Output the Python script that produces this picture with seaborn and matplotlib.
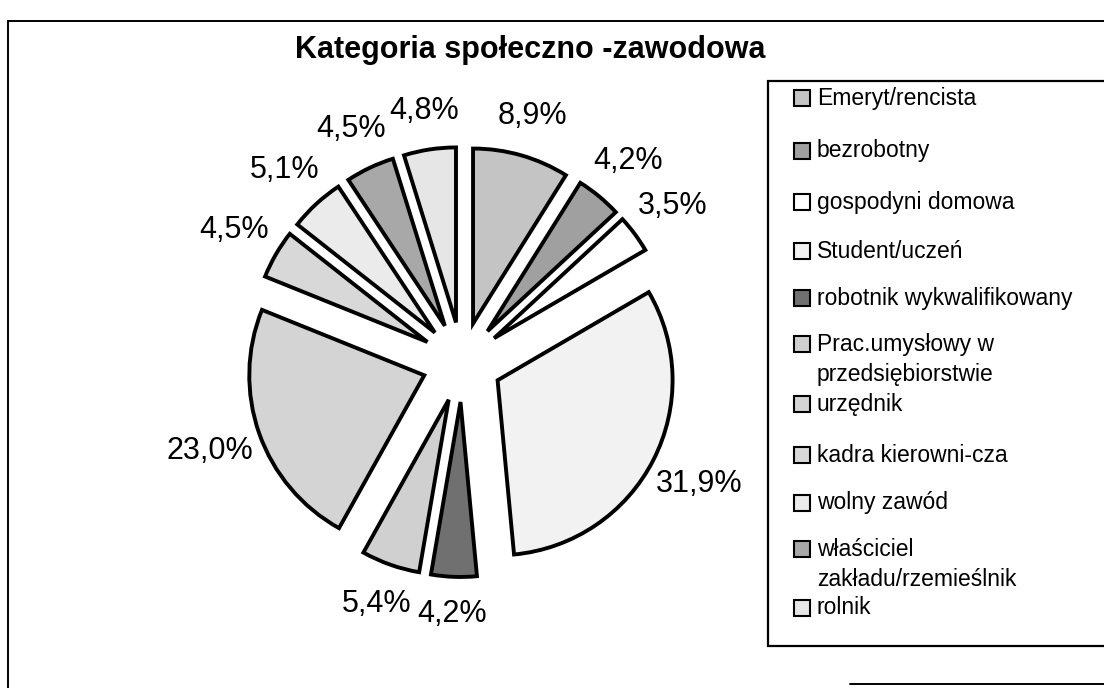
import matplotlib
matplotlib.use("Agg")
import numpy as np
import matplotlib.pyplot as plt
import seaborn as sns
from matplotlib.patches import Rectangle
from matplotlib.lines import Line2D

# ---- data ----
categories = [
    "Emeryt/rencista",
    "bezrobotny",
    "gospodyni domowa",
    "Student/uczeń",
    "robotnik wykwalifikowany",
    "Prac.umysłowy w\nprzedsiębiorstwie",
    "urzędnik",
    "kadra kierowni-cza",
    "wolny zawód",
    "właściciel\nzakładu/rzemieślnik",
    "rolnik",
]
shares = [8.9, 4.2, 3.5, 31.9, 4.2, 5.4, 23.0, 4.5, 5.1, 4.5, 4.8]
colors = ["#c4c4c4", "#a0a0a0", "#ffffff", "#f2f2f2", "#707070", "#d0d0d0",
          "#d4d4d4", "#d8d8d8", "#ebebeb", "#a8a8a8", "#e6e6e6"]
title = "Kategoria społeczno -zawodowa"

sns.set_theme(style="white")
plt.rcParams["font.family"] = ["Liberation Sans", "DejaVu Sans"]

W, H = 1104, 688
fig = plt.figure(figsize=(W / 100, H / 100), dpi=100)
fig.patch.set_facecolor("white")


def fx(x):
    return x / W


def fy(y):
    return 1 - y / H


# pie axes: centre (462, 362) px, radius 175 px
cx, cy, R, S = 462, 362, 175, 300
ax = fig.add_axes([fx(cx - S), fy(cy + S), 2 * S / W, 2 * S / H])
ax.patch.set_alpha(0)
lim = S / R
ax.axis("off")

explode = [40 / R] * len(shares)
wedges, texts, autotexts = ax.pie(
    shares,
    colors=colors,
    explode=explode,
    startangle=90,
    counterclock=False,
    radius=1.0,
    autopct=lambda p: f"{p:.1f}%".replace(".", ","),
    pctdistance=1.3,
    wedgeprops=dict(edgecolor="black", linewidth=2.8),
    frame=False,
)
ax.set_xlim(-lim, lim)
ax.set_ylim(-lim, lim)

# place labels just outside each slice, allowing for the label box size
for t in autotexts:
    t.set_fontsize(22)
    t.set_color("black")
fig.canvas.draw()
renderer = fig.canvas.get_renderer()
d0 = 244
for w, t in zip(wedges, autotexts):
    ang = np.deg2rad((w.theta1 + w.theta2) / 2)
    dx, dy = np.cos(ang), np.sin(ang)
    bb = t.get_window_extent(renderer)
    hw, hh = bb.width / 2, bb.height / 2
    d = (d0 + 0.5 * (abs(dx) * hw + abs(dy) * hh)) / R
    t.set_position((dx * d, dy * d))
    t.set_ha("center")
    t.set_va("center")

# title
fig.text(fx(530), fy(50), title, ha="center", va="center",
         fontsize=22, fontweight="bold", color="black")

# outer frame
frame_kw = dict(color="black", linewidth=1.4, transform=fig.transFigure)
fig.add_artist(Line2D([fx(8), fx(1110)], [fy(21), fy(21)], **frame_kw))
fig.add_artist(Line2D([fx(8), fx(8)], [fy(21), fy(690)], **frame_kw))
fig.add_artist(Line2D([fx(850), fx(1110)], [fy(684), fy(684)], **frame_kw))

# legend box
fig.add_artist(Rectangle((fx(768), fy(646)), (1115 - 768) / W, (646 - 81) / H,
                         transform=fig.transFigure, facecolor="white",
                         edgecolor="black", linewidth=1.6, zorder=0))

legend_y = [98, 151, 202, 251, 298, 344, 404, 455, 503, 549, 608]
line_gap = 30
for ys, lab, col in zip(legend_y, categories, colors):
    fig.add_artist(Rectangle((fx(794), fy(ys + 8)), 16 / W, 16 / H,
                             transform=fig.transFigure, facecolor=col,
                             edgecolor="black", linewidth=1.5))
    for j, line in enumerate(lab.split("\n")):
        fig.text(fx(817), fy(ys + j * line_gap), line, ha="left", va="center",
                 fontsize=16.5, color="black")

fig.savefig("out.png", dpi=100, facecolor="white")
